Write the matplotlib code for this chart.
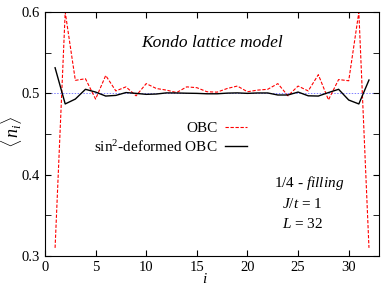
import matplotlib
matplotlib.use("Agg")
import matplotlib.pyplot as plt
import numpy as np

# data
sites = list(range(1, 33))
n_obc = [0.310, 0.600, 0.516, 0.518, 0.493, 0.522, 0.503, 0.508,
         0.497, 0.512, 0.506, 0.504, 0.501, 0.508, 0.507, 0.502,
         0.5015, 0.506, 0.509, 0.502, 0.504, 0.505, 0.512, 0.497,
         0.509, 0.503, 0.523, 0.492, 0.517, 0.5155, 0.600, 0.310]
n_sin2 = [0.5315, 0.487, 0.493, 0.505, 0.5016, 0.4967, 0.4975, 0.501,
          0.500, 0.4988, 0.4992, 0.5006, 0.5005, 0.5002, 0.5000, 0.4995,
          0.4995, 0.5003, 0.5006, 0.500, 0.5005, 0.5005, 0.498, 0.498,
          0.5016, 0.497, 0.4967, 0.501, 0.505, 0.4918, 0.487, 0.5164]

plt.rcParams['font.family'] = 'Liberation Serif'
plt.rcParams['mathtext.fontset'] = 'custom'
plt.rcParams['mathtext.rm'] = 'Liberation Serif'
plt.rcParams['mathtext.it'] = 'Liberation Serif:italic'

fig = plt.figure(figsize=(3.81, 2.87), dpi=100)
ax = fig.add_axes([0.118, 0.108, 0.877, 0.85])

ax.axhline(0.5, color='#8080ff', lw=0.7, ls=(0, (1.5, 1.5)), zorder=1)
ax.plot(sites, n_obc, color='red', lw=0.8, ls=(0, (3, 1.5)), label='OBC', zorder=2)
ax.plot(sites, n_sin2, color='black', lw=1.0, label=r'sin$^2$-deformed OBC', zorder=3)

ax.set_xlim(0, 33)
ax.set_ylim(0.3, 0.6)
ax.set_xticks([0, 5, 10, 15, 20, 25, 30])
ax.set_yticks([0.3, 0.4, 0.5, 0.6])
ax.set_yticks([0.35, 0.45, 0.55], minor=True)
ax.tick_params(which='both', direction='in', top=True, right=True, labelsize=10.5)
ax.tick_params(which='major', length=4)
ax.tick_params(which='minor', length=4)

ax.set_xlabel(r'$i$', fontsize=11)
ax.xaxis.set_label_coords(0.479, -0.065)
ax.set_ylabel(r'$\langle\, n_i \rangle$', fontsize=13)
ax.yaxis.set_label_coords(-0.062, 0.51)

ax.text(0.50, 0.875, 'Kondo lattice model', transform=ax.transAxes,
        ha='center', va='center', fontsize=12.5, style='italic')

ax.legend(loc='upper right', bbox_to_anchor=(0.605, 0.552), markerfirst=False,
          frameon=False, fontsize=11, handlelength=1.45, handletextpad=0.5,
          labelspacing=0.25, borderaxespad=0, borderpad=0)

ax.text(0.79, 0.30, r'1/4 - $\it{filling}$', transform=ax.transAxes,
        ha='center', va='center', fontsize=11)
ax.text(0.77, 0.213, r'$J/t$ = 1', transform=ax.transAxes,
        ha='center', va='center', fontsize=11)
ax.text(0.77, 0.132, r'$L$ = 32', transform=ax.transAxes,
        ha='center', va='center', fontsize=11)

fig.savefig('out.png', dpi=100)
